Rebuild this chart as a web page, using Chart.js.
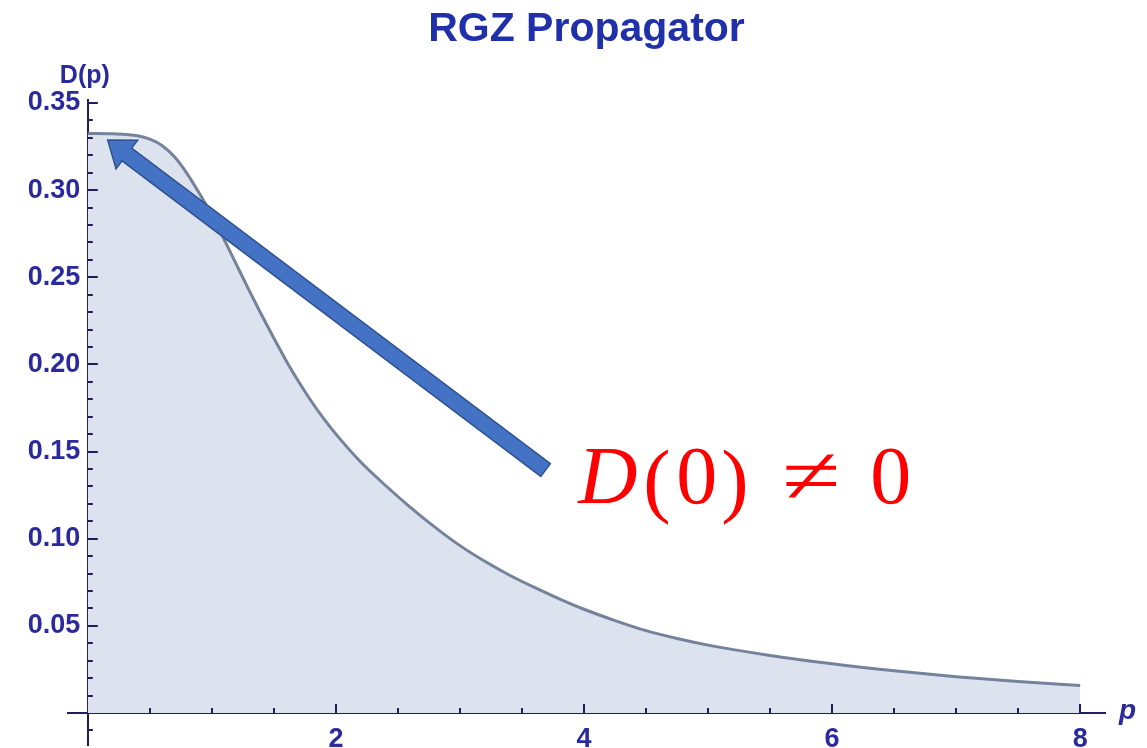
<!DOCTYPE html>
<html>
<head>
<meta charset="utf-8">
<title>RGZ Propagator</title>
<script src="https://cdn.jsdelivr.net/npm/chart.js@4.4.1/dist/chart.umd.min.js"></script>
<style>
  html, body { margin: 0; padding: 0; background: #ffffff; }
  #wrap { width: 1147px; height: 748px; position: relative; }
</style>
</head>
<body>
<div id="wrap"><canvas id="chart" width="1147" height="748"></canvas></div>
<script>
// Gluon propagator D(p) sampled along momentum p
const momentum   = [0, 0.2, 0.4, 0.5, 0.6, 0.7, 0.8, 0.9, 1.0, 1.1, 1.2, 1.3, 1.4, 1.5, 1.6, 1.7, 1.8, 1.9, 2.0,
                    2.2, 2.4, 2.6, 2.8, 3.0, 3.2, 3.4, 3.6, 3.8, 4.0, 4.25, 4.5, 4.75, 5.0, 5.5, 6.0, 6.5, 7.0, 7.5, 8.0];
const propagator = [0.3325, 0.3323, 0.3312, 0.3292, 0.3255, 0.3190, 0.3095, 0.2980, 0.2855, 0.2715, 0.2570, 0.2425, 0.2285,
                    0.2150, 0.2020, 0.1900, 0.1790, 0.1690, 0.1600, 0.1440, 0.1305, 0.1180, 0.1065, 0.0960, 0.0870, 0.0790,
                    0.0720, 0.0655, 0.0595, 0.0530, 0.0472, 0.0427, 0.0389, 0.0330, 0.0282, 0.0242, 0.0208, 0.0180, 0.0157];

// Labelled ticks
const xTickLabels = [2, 4, 6, 8];
const yTickLabels = [0.05, 0.10, 0.15, 0.20, 0.25, 0.30, 0.35];

// Texts
const chartTitle = 'RGZ Propagator';
const yAxisName  = 'D(p)';
const xAxisName  = 'p';
const noteParts  = ['D', '(', '0', ')', '\u2260', '0'];

// Annotation arrow (data coordinates: tail -> tip) and note anchor
const arrowTail  = { x: 3.69, y: 0.1394 };
const arrowTip   = { x: 0.16, y: 0.3287 };
const noteAnchor = { x: 3.97, y: 0.1205 };

const AXIS_COLOR  = '#1f1f5e';
const LABEL_COLOR = '#2a2a9c';
const LABEL_FONT  = { family: 'Liberation Sans, Arial, sans-serif', size: 27, weight: 'bold' };

const near = (v, list) => list.some(t => Math.abs(v - t) < 1e-6);

const axisDecor = {
  id: 'axisDecor',
  afterDraw(chart) {
    const { ctx, scales: { x, y } } = chart;
    const x0 = x.getPixelForValue(0);
    const y0 = y.getPixelForValue(0);
    ctx.save();
    ctx.strokeStyle = AXIS_COLOR;
    ctx.lineWidth = 2;
    // y-axis ticks point right, x-axis ticks point up
    y.ticks.forEach(t => {
      if (Math.abs(t.value) < 1e-9) return;
      const py = Math.round(y.getPixelForValue(t.value));
      const len = near(t.value, yTickLabels) ? 10 : 5;
      ctx.beginPath();
      ctx.moveTo(x0, py);
      ctx.lineTo(x0 + len, py);
      ctx.stroke();
    });
    x.ticks.forEach(t => {
      if (Math.abs(t.value) < 1e-9) return;
      const px = Math.round(x.getPixelForValue(t.value));
      const len = near(t.value, xTickLabels) ? 9 : 5;
      ctx.beginPath();
      ctx.moveTo(px, y0);
      ctx.lineTo(px, y0 - len);
      ctx.stroke();
    });

    // axis names
    ctx.fillStyle = LABEL_COLOR;
    ctx.font = 'bold 25px "Liberation Sans", Arial, sans-serif';
    ctx.textAlign = 'center';
    ctx.textBaseline = 'alphabetic';
    ctx.fillText(yAxisName, x0 - 3, y.getPixelForValue(0.35) - 20);
    ctx.font = 'italic bold 28px "Liberation Sans", Arial, sans-serif';
    ctx.textAlign = 'left';
    ctx.textBaseline = 'middle';
    ctx.fillText(xAxisName, x.right + 14, y0 - 2);

    // arrow pointing at D(0)
    const tx = x.getPixelForValue(arrowTail.x), ty = y.getPixelForValue(arrowTail.y);
    const hx = x.getPixelForValue(arrowTip.x),  hy = y.getPixelForValue(arrowTip.y);
    const ang = Math.atan2(hy - ty, hx - tx);
    const len = Math.hypot(hx - tx, hy - ty);
    const shaftHalf = 8, headHalf = 18, headLen = 24;
    ctx.translate(tx, ty);
    ctx.rotate(ang);
    ctx.beginPath();
    ctx.moveTo(0, -shaftHalf);
    ctx.lineTo(len - headLen, -shaftHalf);
    ctx.lineTo(len - headLen, -headHalf);
    ctx.lineTo(len, 0);
    ctx.lineTo(len - headLen, headHalf);
    ctx.lineTo(len - headLen, shaftHalf);
    ctx.lineTo(0, shaftHalf);
    ctx.closePath();
    ctx.fillStyle = '#4472c4';
    ctx.fill();
    ctx.lineWidth = 1.5;
    ctx.strokeStyle = '#2f528f';
    ctx.stroke();
    ctx.setTransform(1, 0, 0, 1, 0, 0);

    // note: D(0) ≠ 0
    const nx = x.getPixelForValue(noteAnchor.x), ny = y.getPixelForValue(noteAnchor.y);
    const serif = '"Liberation Serif", "DejaVu Serif", serif';
    ctx.fillStyle = '#ff0000';
    ctx.textBaseline = 'alphabetic';
    ctx.textAlign = 'left';
    ctx.font = 'italic 82px ' + serif;
    ctx.fillText(noteParts[0], nx - 2, ny);
    ctx.font = '82px ' + serif;
    ctx.fillText(noteParts[1], nx + 63, ny + 4);
    ctx.fillText(noteParts[2], nx + 96, ny);
    ctx.fillText(noteParts[3], nx + 141, ny + 4);
    ctx.save();
    ctx.translate(nx + 202, ny);
    ctx.scale(1.3, 1);
    ctx.fillText(noteParts[4], 0, 0);
    ctx.restore();
    ctx.fillText(noteParts[5], nx + 290, ny);
    ctx.restore();
  }
};

const chart = new Chart(document.getElementById('chart'), {
  type: 'line',
  data: {
    datasets: [{
      label: 'D(p)',
      data: momentum.map((p, i) => ({ x: p, y: propagator[i] })),
      borderColor: '#74839b',
      borderWidth: 3,
      backgroundColor: '#dde3ee',
      fill: 'origin',
      pointRadius: 0,
      cubicInterpolationMode: 'monotone'
    }]
  },
  options: {
    responsive: false,
    animation: false,
    devicePixelRatio: 1,
    layout: { padding: { left: 68, right: 42, top: 0, bottom: 3 } },
    plugins: {
      legend: { display: false },
      tooltip: { enabled: false },
      title: {
        display: true,
        text: chartTitle,
        color: '#1f30aa',
        font: { family: 'Liberation Sans, Arial, sans-serif', size: 41, weight: 'bold' },
        padding: { top: 5, bottom: 45.8 }
      }
    },
    scales: {
      x: {
        type: 'linear',
        min: -0.16,
        max: 8.2,
        position: { y: 0 },
        z: 1,
        grid: { display: false },
        border: { display: true, color: AXIS_COLOR, width: 2 },
        ticks: {
          stepSize: 0.5,
          includeBounds: false,
          autoSkip: false,
          maxRotation: 0,
          padding: 2,
          color: LABEL_COLOR,
          font: LABEL_FONT,
          callback: v => near(v, xTickLabels) ? String(Math.round(v)) : ''
        },
        afterFit: s => { s.paddingLeft = 0; s.paddingRight = 0; s.paddingTop = 0; s.paddingBottom = 0; }
      },
      y: {
        type: 'linear',
        min: -0.0184,
        max: 0.3517,
        position: { x: 0 },
        z: 1,
        grid: { display: false },
        border: { display: true, color: AXIS_COLOR, width: 2 },
        ticks: {
          stepSize: 0.01,
          includeBounds: false,
          autoSkip: false,
          padding: 8,
          color: LABEL_COLOR,
          font: LABEL_FONT,
          // trailing space keeps the right-aligned label clear of the axis line
          callback: v => near(v, yTickLabels) ? v.toFixed(2) + ' ' : ''
        },
        afterFit: s => { s.paddingLeft = 0; s.paddingRight = 0; s.paddingTop = 0; s.paddingBottom = 0; }
      }
    }
  },
  plugins: [axisDecor]
});
</script>
</body>
</html>
